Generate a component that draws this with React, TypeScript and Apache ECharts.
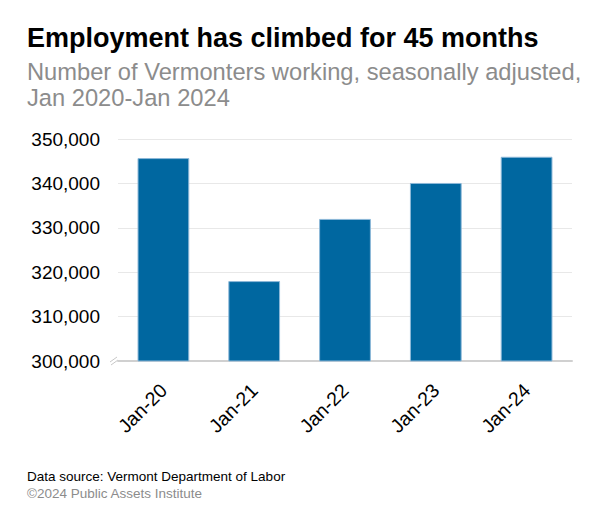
import React, { useEffect, useRef } from "react";
import * as echarts from "echarts";

const categories = ["Jan-20", "Jan-21", "Jan-22", "Jan-23", "Jan-24"];
const employed = [345700, 318000, 332000, 340100, 346000];
const yMin = 300000;
const yMax = 350000;
const yInterval = 10000;

const FONT = "'Liberation Sans', Arial, sans-serif";

export default function App() {
  const ref = useRef<HTMLDivElement>(null);
  useEffect(() => {
    if (!ref.current) return;
    const chart = echarts.init(ref.current, null, { renderer: "svg" });
    chart.setOption({
      animation: false,
      backgroundColor: "#ffffff",
      textStyle: { fontFamily: FONT },
      title: [
        {
          text: "Employment has climbed for 45 months",
          left: 27,
          top: 24,
          padding: 0,
          textStyle: { fontFamily: FONT, fontSize: 27, fontWeight: "bold", color: "#000000" },
        },
        {
          text: "Number of Vermonters working, seasonally adjusted,\nJan 2020-Jan 2024",
          left: 27,
          top: 59,
          padding: 0,
          textStyle: { fontFamily: FONT, fontSize: 23.7, fontWeight: "normal", color: "#8c8c8c", lineHeight: 26 },
        },
        {
          text: "Data source: Vermont Department of Labor",
          left: 27,
          top: 469,
          padding: 0,
          textStyle: { fontFamily: FONT, fontSize: 13.5, fontWeight: "normal", color: "#000000" },
        },
        {
          text: "©2024 Public Assets Institute",
          left: 27,
          top: 486,
          padding: 0,
          textStyle: { fontFamily: FONT, fontSize: 13.5, fontWeight: "normal", color: "#8c8c8c" },
        },
      ],
      grid: { left: 118, right: 28, top: 139, bottom: 164, containLabel: false },
      xAxis: {
        type: "category",
        data: categories,
        axisLine: { show: true, lineStyle: { color: "#d0d0d0", width: 2 } },
        axisTick: { show: false },
        axisLabel: {
          rotate: 45,
          fontSize: 19.5,
          color: "#000000",
          fontFamily: FONT,
          margin: 26,
        },
      },
      yAxis: {
        type: "value",
        min: yMin,
        max: yMax,
        interval: yInterval,
        axisLine: { show: false },
        axisTick: { show: false },
        splitLine: { show: true, lineStyle: { color: "#e8e8e8", width: 1 } },
        axisLabel: {
          fontSize: 19,
          color: "#000000",
          fontFamily: FONT,
          margin: 18,
          formatter: (v: number) => v.toLocaleString("en-US"),
        },
      },
      series: [
        {
          type: "bar",
          data: employed,
          barWidth: "57%",
          itemStyle: { color: "#0067a0", borderColor: "#8db8d8", borderWidth: 1 },
        },
      ],
      graphic: [
        {
          type: "line",
          shape: { x1: 110, y1: 362, x2: 117, y2: 357 },
          style: { stroke: "#c8c8c8", lineWidth: 1 },
        },
        {
          type: "line",
          shape: { x1: 111, y1: 365, x2: 118, y2: 360 },
          style: { stroke: "#c8c8c8", lineWidth: 1 },
        },
      ],
    });
    return () => chart.dispose();
  }, []);
  return <div ref={ref} style={{ width: 600, height: 525, position: "absolute", left: 0, top: 0 }} />;
}
